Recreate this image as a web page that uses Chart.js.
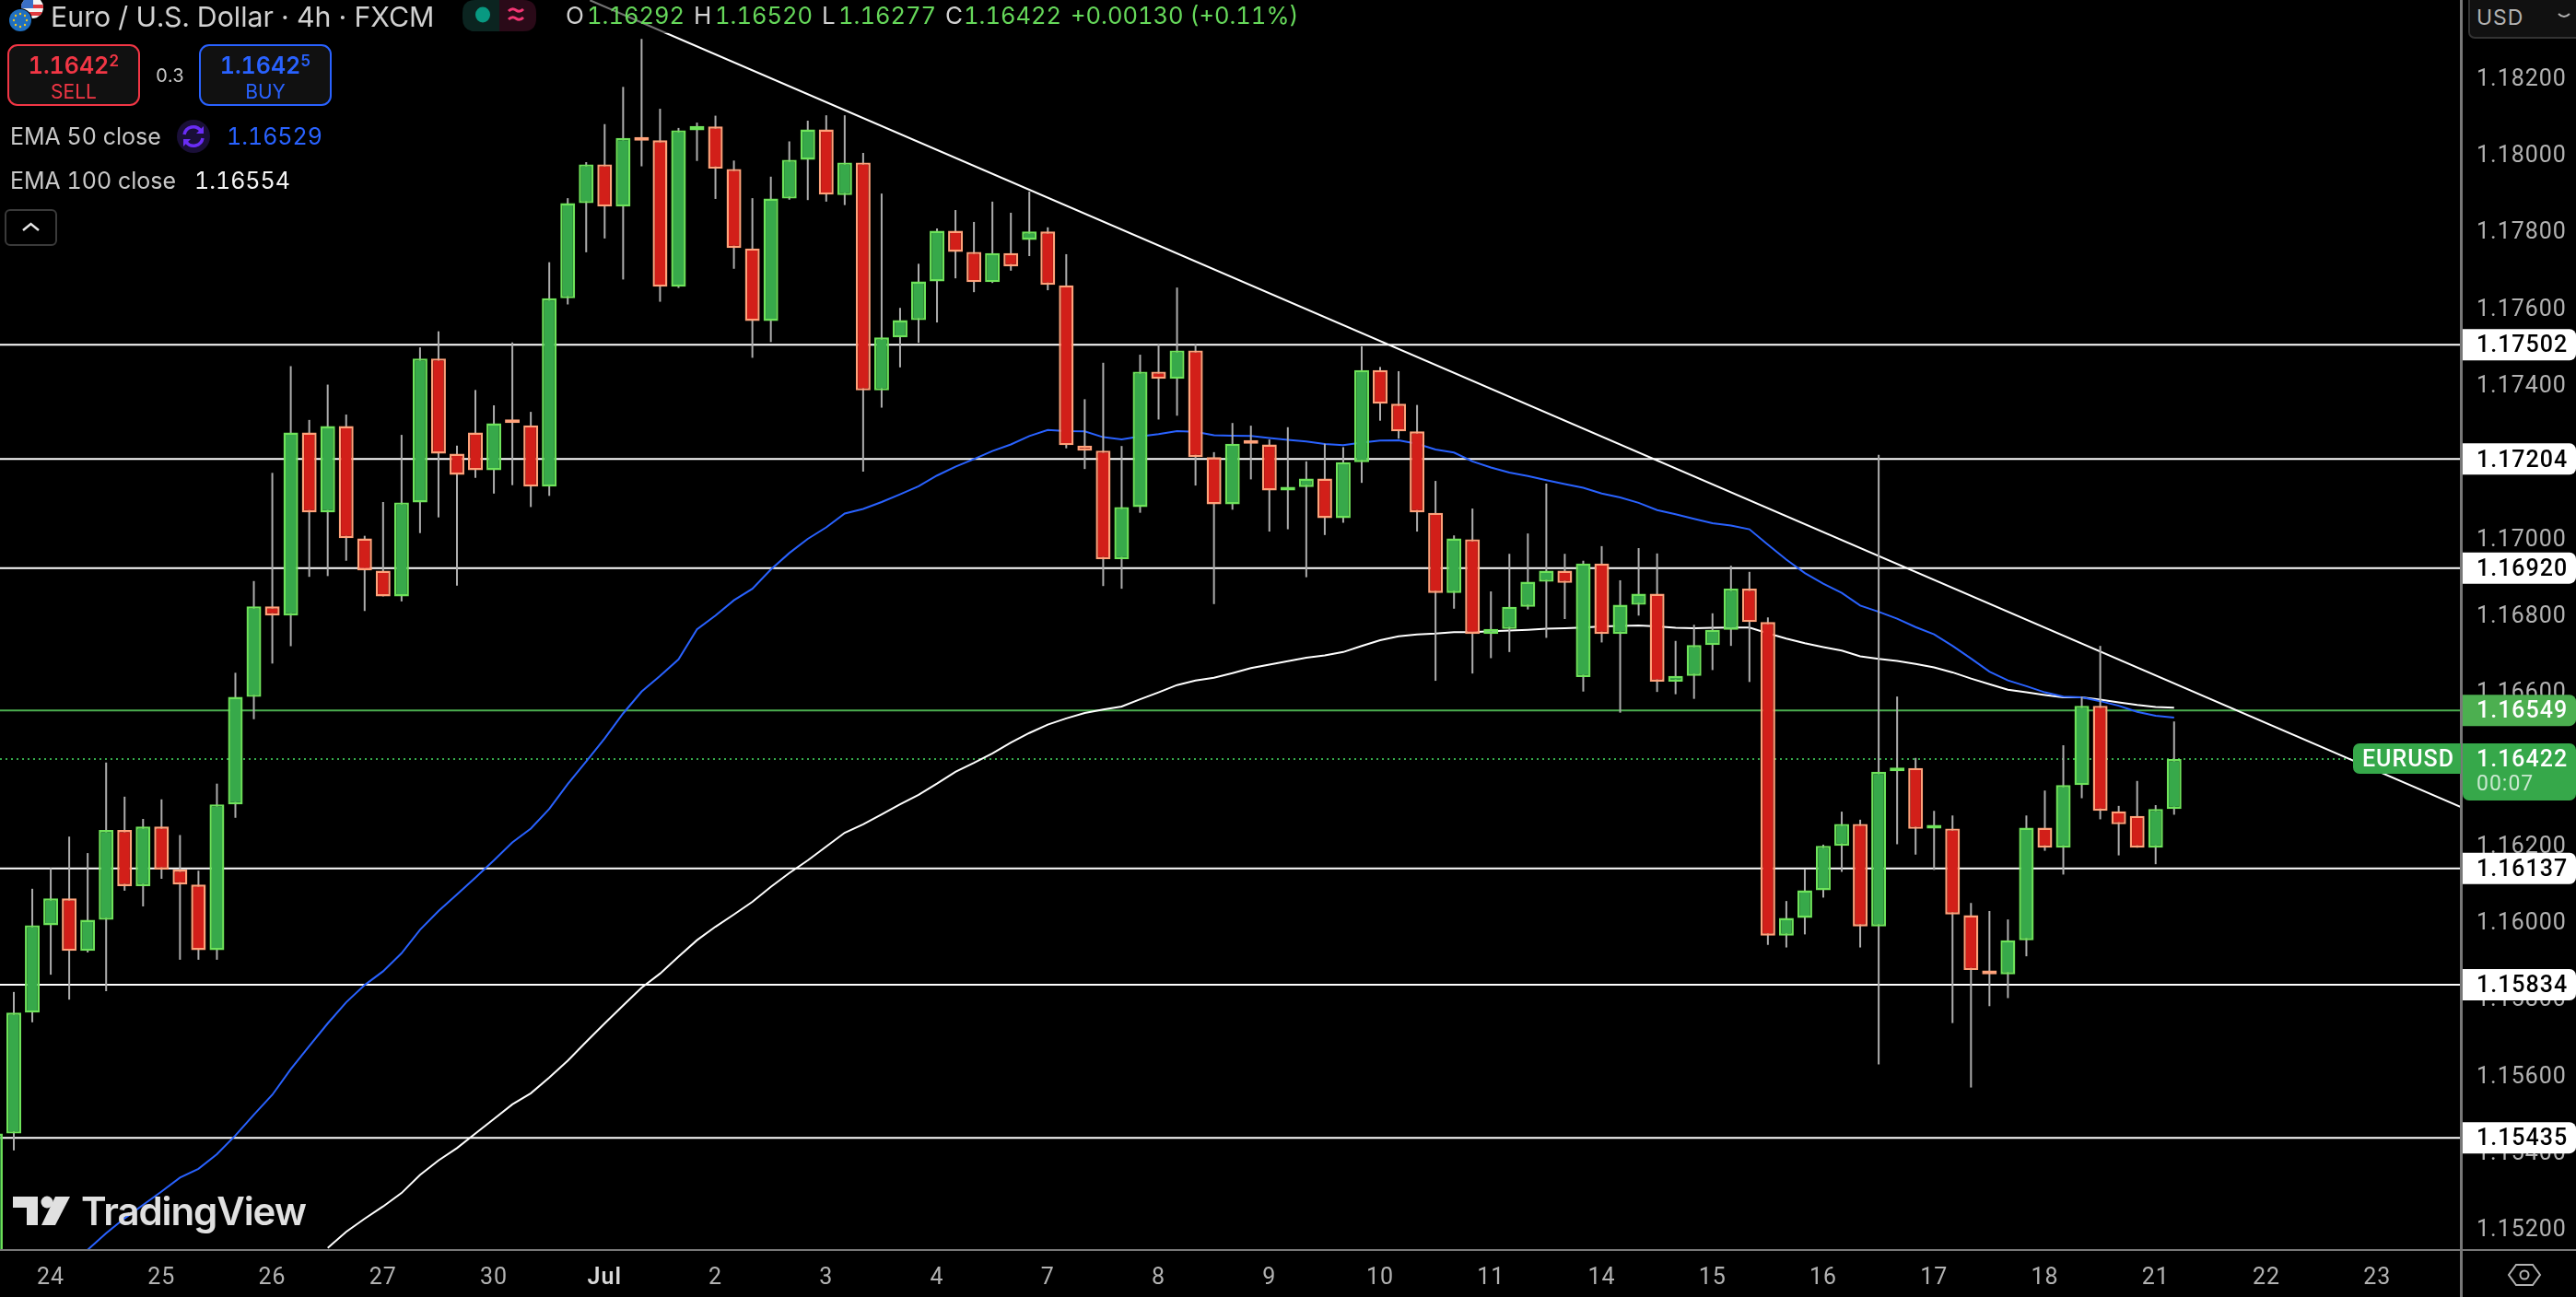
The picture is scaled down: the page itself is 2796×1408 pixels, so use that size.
<!DOCTYPE html>
<html>
<head>
<meta charset="utf-8">
<title>EURUSD 4h</title>
<script src="https://cdn.jsdelivr.net/npm/chart.js@4"></script>
<style>
  html, body { margin: 0; padding: 0; background: #000; overflow: hidden; }
  #wrap { position: relative; width: 2796px; height: 1408px; font-family: Inter, sans-serif; color: #d1d1d1; font-variant-numeric: tabular-nums; }
  #grafico { position: absolute; left: 0; top: 0; }
  .t { position: absolute; white-space: nowrap; line-height: 1; }
  .g { color: #66d85a; font-size: 25.5px; }
  .box { position: absolute; box-sizing: border-box; width: 144px; height: 67px; top: 48px; border: 2.5px solid; border-radius: 11px; background: #111; text-align: center; }
  .box .p { position: absolute; left: 0; right: 0; top: 8px; font-size: 25px; font-weight: 600; line-height: 1.1; }
  .box .p sup { font-size: 17px; line-height: 0; vertical-align: 8px; }
  .box .s { position: absolute; left: 0; right: 0; top: 38px; font-size: 21px; line-height: 1.1; }
  svg { position: absolute; overflow: visible; }
</style>
</head>
<body>
<div id="wrap">
  <canvas id="grafico" width="2796" height="1408"></canvas>

  <!-- leyenda superior -->
  <div style="position:absolute;left:0;top:0;width:1410px;height:36px;background:rgba(0,0,0,.55)"></div>
  <svg style="left:0;top:0" width="60" height="40">
    <clipPath id="us"><circle cx="35" cy="8" r="12"/></clipPath>
    <circle cx="35" cy="8" r="12" fill="#f4f4f4"/>
    <rect x="23" y="-4" width="24" height="3" fill="#e0393e" clip-path="url(#us)"/>
    <rect x="23" y="5" width="24" height="4" fill="#e0393e" clip-path="url(#us)"/>
    <rect x="23" y="13" width="24" height="4" fill="#e0393e" clip-path="url(#us)"/>
    <rect x="23" y="-4" width="13" height="13" fill="#3a6fc8" clip-path="url(#us)"/>
    <circle cx="22" cy="22" r="13" fill="#000"/>
    <circle cx="22" cy="22" r="12" fill="#1f6fc0"/>
    <g fill="#f2c81e">
      <circle cx="22" cy="15" r="1.2"/><circle cx="22" cy="29" r="1.2"/><circle cx="15" cy="22" r="1.2"/><circle cx="29" cy="22" r="1.2"/>
      <circle cx="17" cy="17" r="1.2"/><circle cx="27" cy="17" r="1.2"/><circle cx="17" cy="27" r="1.2"/><circle cx="27" cy="27" r="1.2"/>
    </g>
  </svg>
  <div class="t" style="left:55px;top:3px;font-size:30.3px">Euro / U.S. Dollar · 4h · FXCM</div>

  <svg style="left:502px;top:0" width="80" height="34">
    <path d="M40 0H14Q0 0 0 14V20Q0 34 14 34H40Z" fill="#0b2420"/>
    <path d="M40 0H66Q80 0 80 14V20Q80 34 66 34H40Z" fill="#2a0a18"/>
    <ellipse cx="22" cy="16" rx="8" ry="8.5" fill="#089981"/>
    <path d="M50 12q4-4 8-1t8-1M50 21q4-4 8-1t8-1" fill="none" stroke="#f23674" stroke-width="3"/>
  </svg>

  <div class="t" style="left:614px;top:4px;font-size:26px">O</div>
  <div class="t g" style="left:637px;top:4px">1.16292</div>
  <div class="t" style="left:753px;top:4px;font-size:26px">H</div>
  <div class="t g" style="left:776px;top:4px">1.16520</div>
  <div class="t" style="left:892px;top:4px;font-size:26px">L</div>
  <div class="t g" style="left:910px;top:4px">1.16277</div>
  <div class="t" style="left:1026px;top:4px;font-size:26px">C</div>
  <div class="t g" style="left:1046px;top:4px">1.16422</div>
  <div class="t g" style="left:1162px;top:4px">+0.00130 (+0.11%)</div>

  <div class="box" style="left:8px;border-color:#f23645;color:#f23645">
    <div class="p">1.1642<sup>2</sup></div><div class="s">SELL</div>
  </div>
  <div class="t" style="left:169px;top:72px;font-size:20px;color:#c8c8c8">0.3</div>
  <div class="box" style="left:216px;border-color:#2962ff;color:#2962ff">
    <div class="p">1.1642<sup>5</sup></div><div class="s">BUY</div>
  </div>

  <div class="t" style="left:11px;top:136px;font-size:25px;color:#c8c8c8">EMA 50 close</div>
  <svg style="left:192px;top:130px" width="36" height="36">
    <circle cx="18" cy="18" r="18" fill="#1a0f38"/>
    <path d="M8 16a10 10 0 0 1 18-4M28 20a10 10 0 0 1-18 4" fill="none" stroke="#6a2cf5" stroke-width="3.5"/>
    <path d="M29 7v8h-8ZM7 29v-8h8Z" fill="#6a2cf5"/>
  </svg>
  <div class="t" style="left:246px;top:136px;font-size:25px;color:#2962ff">1.16529</div>
  <div class="t" style="left:11px;top:184px;font-size:25px;color:#c8c8c8">EMA 100 close</div>
  <div class="t" style="left:211px;top:184px;font-size:25px;color:#f4f4f4">1.16554</div>

  <div style="position:absolute;box-sizing:border-box;left:5px;top:227px;width:57px;height:40px;border:2px solid #3a3a3a;border-radius:6px"></div>
  <svg style="left:5px;top:227px" width="57" height="40"><path d="M20 23l8.500-7 8.500 7" fill="none" stroke="#e6e6e6" stroke-width="2.5"/></svg>

  <!-- logo -->
  <svg style="left:14px;top:1296px" width="64" height="38">
    <path d="M0 3H27V34H15V15H0Z" fill="#e0e0e0"/>
    <circle cx="37" cy="9" r="6.500" fill="#e0e0e0"/>
    <path d="M46 3H62L46 34H31Z" fill="#e0e0e0"/>
  </svg>
  <div class="t" style="left:88px;top:1294px;font-size:42px;font-weight:600;letter-spacing:-1.1px;color:#e0e0e0">TradingView</div>

  <!-- USD y ojo -->
  <div style="position:absolute;box-sizing:border-box;left:2679px;top:-2px;width:120px;height:44px;background:#111;border:2px solid #333;border-radius:0 0 0 7px"></div>
  <div class="t" style="left:2688px;top:8px;font-size:23px;letter-spacing:1px;color:#b2b2b2">USD</div>
  <svg style="left:2776px;top:14px" width="14" height="8"><path d="M1 1q6 6 12 0" fill="none" stroke="#b2b2b2" stroke-width="2"/></svg>
  <svg style="left:2722px;top:1372px" width="36" height="26">
    <path d="M9 1H27L35 12L27 23H9L1 12Z" fill="none" stroke="#b2b2b2" stroke-width="2"/>
    <circle cx="18" cy="12" r="4.500" fill="none" stroke="#b2b2b2" stroke-width="2"/>
  </svg>
</div>

<script>
// ============================================================
// EURUSD 4h - velas
// ============================================================

const candleStart = -1; // la primera vela queda medio cortada en el borde
const candleOpen = [
  1.15040,1.15446,1.15761,1.15989,1.16059,1.15922,1.16003,1.16237,1.16091,1.16246,
  1.16134,1.16095,1.15924,1.16304,1.16584,1.16820,1.16796,1.17273,1.17065,1.17290,
  1.16997,1.16913,1.16846,1.17091,1.17466,1.17218,1.17273,1.17175,1.17301,1.17292,
  1.17132,1.17623,1.17871,1.17972,1.17862,1.18041,1.18035,1.17653,1.18061,1.18071,
  1.17960,1.17753,1.17564,1.17883,1.17984,1.18063,1.17892,1.17977,1.17383,1.17521,
  1.17566,1.17667,1.17799,1.17744,1.17665,1.17741,1.17775,1.17797,1.17657,1.17239,
  1.17226,1.16943,1.17079,1.17432,1.17413,1.17487,1.17209,1.17086,1.17247,1.17242,
  1.17122,1.17131,1.17153,1.17050,1.17196,1.17436,1.17348,1.17276,1.17064,1.16855,
  1.16995,1.16748,1.16761,1.16819,1.16884,1.16913,1.16636,1.16932,1.16748,1.16824,
  1.16853,1.16624,1.16639,1.16719,1.16759,1.16866,1.16779,1.15962,1.16008,1.16080,
  1.16196,1.16253,1.15986,1.16390,1.16399,1.16241,1.16241,1.16015,1.15871,1.15861,
  1.15950,1.16243,1.16191,1.16354,1.16561,1.16286,1.16274,1.16191,1.16292
];
const candleHigh = [
  1.15446,1.15815,1.16084,1.16138,1.16220,1.16177,1.16413,1.16324,1.16266,1.16317,
  1.16224,1.16131,1.16358,1.16647,1.16886,1.17168,1.17446,1.17306,1.17398,1.17320,
  1.17004,1.17092,1.17267,1.17495,1.17537,1.17239,1.17384,1.17344,1.17508,1.17327,
  1.17717,1.17884,1.17978,1.18077,1.18174,1.18299,1.18117,1.18067,1.18081,1.18099,
  1.17982,1.17884,1.17940,1.18032,1.18086,1.18100,1.18100,1.18002,1.17896,1.17598,
  1.17713,1.17805,1.17853,1.17822,1.17875,1.17846,1.17901,1.17808,1.17738,1.17360,
  1.17455,1.17238,1.17476,1.17503,1.17651,1.17503,1.17222,1.17298,1.17291,1.17255,
  1.17287,1.17198,1.17244,1.17235,1.17498,1.17444,1.17433,1.17345,1.17147,1.17005,
  1.17075,1.16859,1.16957,1.17010,1.17140,1.16957,1.16939,1.16977,1.16888,1.16972,
  1.16958,1.16730,1.16772,1.16802,1.16926,1.16910,1.16791,1.16052,1.16134,1.16199,
  1.16285,1.16264,1.17215,1.16585,1.16425,1.16287,1.16275,1.16047,1.16026,1.16004,
  1.16275,1.16340,1.16458,1.16585,1.16717,1.16300,1.16365,1.16302,1.16520
];
const candleLow = [
  1.15040,1.15402,1.15736,1.15860,1.15795,1.15918,1.15817,1.16079,1.16038,1.16110,
  1.15899,1.15899,1.15899,1.16269,1.16526,1.16671,1.16716,1.16897,1.16899,1.16939,
  1.16808,1.16846,1.16833,1.17011,1.17052,1.16874,1.17155,1.17114,1.17136,1.17079,
  1.17108,1.17607,1.17743,1.17779,1.17672,1.17967,1.17614,1.17650,1.17981,1.17882,
  1.17700,1.17468,1.17509,1.17880,1.17879,1.17875,1.17866,1.17171,1.17338,1.17443,
  1.17507,1.17560,1.17675,1.17639,1.17663,1.17695,1.17733,1.17644,1.17232,1.17178,
  1.16873,1.16866,1.17064,1.17307,1.17317,1.17135,1.16826,1.17072,1.17151,1.17015,
  1.17021,1.16896,1.17006,1.17038,1.17142,1.17304,1.17257,1.17015,1.16626,1.16814,
  1.16645,1.16685,1.16701,1.16812,1.16738,1.16787,1.16598,1.16726,1.16543,1.16796,
  1.16597,1.16591,1.16579,1.16654,1.16717,1.16623,1.15938,1.15931,1.15965,1.16061,
  1.16128,1.15931,1.15626,1.16200,1.16173,1.16133,1.15734,1.15566,1.15778,1.15799,
  1.15908,1.16183,1.16121,1.16320,1.16265,1.16171,1.16191,1.16148,1.16277
];
const candleClose = [
  1.15446,1.15761,1.15989,1.16059,1.15922,1.16003,1.16237,1.16091,1.16246,1.16134,
  1.16095,1.15924,1.16304,1.16584,1.16820,1.16796,1.17273,1.17065,1.17290,1.16998,
  1.16914,1.16846,1.17091,1.17466,1.17218,1.17163,1.17175,1.17297,1.17298,1.17132,
  1.17623,1.17871,1.17972,1.17862,1.18041,1.18034,1.17653,1.18061,1.18072,1.17961,
  1.17754,1.17564,1.17883,1.17984,1.18063,1.17893,1.17977,1.17383,1.17521,1.17566,
  1.17667,1.17799,1.17744,1.17665,1.17741,1.17706,1.17797,1.17658,1.17240,1.17226,
  1.16943,1.17079,1.17432,1.17413,1.17487,1.17209,1.17086,1.17244,1.17244,1.17122,
  1.17131,1.17153,1.17050,1.17196,1.17436,1.17348,1.17276,1.17065,1.16855,1.16997,
  1.16748,1.16761,1.16819,1.16884,1.16913,1.16881,1.16932,1.16748,1.16824,1.16853,
  1.16624,1.16639,1.16719,1.16759,1.16866,1.16779,1.15962,1.16008,1.16080,1.16196,
  1.16253,1.15986,1.16389,1.16399,1.16240,1.16244,1.16017,1.15872,1.15861,1.15950,
  1.16243,1.16191,1.16354,1.16561,1.16287,1.16252,1.16191,1.16292,1.16422
];

const ema50Start = 4;
const ema50 = [
  1.15143,1.15186,1.15225,1.15260,1.15295,1.15331,1.15354,1.15392,1.15441,1.15495,
  1.15547,1.15614,1.15674,1.15733,1.15788,1.15833,1.15869,1.15916,1.15977,1.16026,
  1.16069,1.16113,1.16158,1.16205,1.16241,1.16292,1.16357,1.16416,1.16476,1.16541,
  1.16598,1.16639,1.16682,1.16760,1.16796,1.16836,1.16866,1.16916,1.16959,1.16996,
  1.17026,1.17062,1.17074,1.17092,1.17112,1.17133,1.17161,1.17184,1.17204,1.17225,
  1.17242,1.17264,1.17280,1.17277,1.17276,1.17261,1.17255,1.17263,1.17269,1.17277,
  1.17275,1.17266,1.17265,1.17264,1.17259,1.17254,1.17250,1.17243,1.17240,1.17247,
  1.17252,1.17253,1.17244,1.17229,1.17221,1.17198,1.17182,1.17169,1.17160,1.17149,
  1.17139,1.17129,1.17114,1.17104,1.17090,1.17071,1.17060,1.17048,1.17037,1.17031,
  1.17021,1.16981,1.16942,1.16907,1.16879,1.16855,1.16822,1.16806,1.16788,1.16766,
  1.16747,1.16717,1.16684,1.16650,1.16627,1.16612,1.16596,1.16585,1.16583,1.16573,
  1.16561,1.16545,1.16535,1.16530
];

const ema100Start = 17;
const ema100 = [
  1.15148,1.15190,1.15224,1.15256,1.15291,1.15338,1.15376,1.15408,1.15446,1.15484,
  1.15522,1.15551,1.15592,1.15636,1.15685,1.15733,1.15780,1.15826,1.15863,1.15907,
  1.15950,1.15985,1.16017,1.16050,1.16089,1.16125,1.16158,1.16194,1.16230,1.16252,
  1.16278,1.16304,1.16329,1.16358,1.16389,1.16412,1.16437,1.16465,1.16490,1.16512,
  1.16528,1.16542,1.16551,1.16559,1.16578,1.16596,1.16615,1.16627,1.16634,1.16646,
  1.16659,1.16668,1.16677,1.16686,1.16692,1.16701,1.16717,1.16732,1.16742,1.16747,
  1.16749,1.16753,1.16753,1.16755,1.16757,1.16759,1.16762,1.16763,1.16765,1.16768,
  1.16769,1.16770,1.16768,1.16764,1.16763,1.16764,1.16765,1.16765,1.16750,1.16736,
  1.16724,1.16714,1.16705,1.16690,1.16683,1.16678,1.16670,1.16661,1.16648,1.16632,
  1.16617,1.16603,1.16596,1.16589,1.16583,1.16583,1.16577,1.16570,1.16563,1.16558,
  1.16556
];

const levelPrices = [1.17502, 1.17204, 1.16920, 1.16137, 1.15834, 1.15435];
const emaLevel = 1.16549;
const lastPrice = 1.16422;

const trendIndex = [31.2, 132.53];
const trendPrice = [1.18400, 1.16297];

const priceTicks = [1.152,1.154,1.156,1.158,1.160,1.162,1.164,1.166,1.168,1.170,1.172,1.174,1.176,1.178,1.180,1.182];
const dayLabels = ['24','25','26','27','30','Jul','2','3','4','7','8','9','10','11','14','15','16','17','18','21','22','23'];
const dayIndex = [2,8,14,20,26,32,38,44,50,56,62,68,74,80,86,92,98,104,110,116,122,128];

// limites de los ejes
const xMin = -0.7485, xMax = 132.53;
const yMin = 1.151424, yMax = 1.184005;

const isUp = (i) => candleClose[i] >= candleOpen[i];

const bodyData = candleOpen.map((o, i) => ({ x: candleStart + i, y: [o, candleClose[i]] }));
const wickData = candleHigh.map((h, i) => ({ x: candleStart + i, y: [candleLow[i], h] }));

function lineaNivel(price, color, width, dash) {
  return {
    type: 'line',
    data: [{ x: xMin, y: price }, { x: xMax, y: price }],
    borderColor: color,
    borderWidth: width,
    borderDash: dash || [],
    pointRadius: 0,
    order: 5
  };
}

function lineaEma(values, start, color) {
  return {
    type: 'line',
    data: values.map((v, i) => ({ x: start + i, y: v })),
    borderColor: color,
    borderWidth: 2,
    pointRadius: 0,
    tension: 0,
    order: 4
  };
}

// el espaciado de letras no es opcion de Chart.js, va en el contexto
const espaciadoPlugin = {
  id: 'espaciado',
  beforeDraw(chart) { chart.ctx.letterSpacing = '1px'; }
};

// etiquetas de precio y lineas de marco, encima de todo
const marcoPlugin = {
  id: 'marco',
  afterDraw(chart) {
    const ctx = chart.ctx;
    const y = chart.scales.y;
    const a = chart.chartArea;

    ctx.save();
    ctx.fillStyle = '#787878';
    ctx.fillRect(a.right - 1, 0, 3, 1408);
    ctx.fillRect(0, a.bottom - 1, 2796, 2);

    function etiqueta(price, fondo, color, peso) {
      const py = y.getPixelForValue(price);
      ctx.fillStyle = fondo;
      ctx.beginPath();
      ctx.roundRect(2673, py - 17, 123, 34, [0, 7, 7, 0]);
      ctx.fill();
      ctx.fillStyle = color;
      ctx.font = peso + ' 25px Roboto';
      ctx.textBaseline = 'middle';
      ctx.textAlign = 'left';
      ctx.fillText(price.toFixed(5), 2688, py + 2);
    }
    levelPrices.forEach((p) => etiqueta(p, '#ffffff', '#000000', 500));
    etiqueta(emaLevel, '#4caf50', '#ffffff', 500);

    const ly = y.getPixelForValue(lastPrice);
    ctx.fillStyle = '#36a84a';
    ctx.beginPath();
    ctx.roundRect(2673, ly - 17, 123, 62, [0, 7, 7, 7]);
    ctx.fill();
    ctx.beginPath();
    ctx.roundRect(2554, ly - 17, 117, 33, [7, 0, 0, 7]);
    ctx.fill();
    ctx.fillStyle = '#ffffff';
    ctx.font = '500 25px Roboto';
    ctx.textBaseline = 'middle';
    ctx.fillText(lastPrice.toFixed(5), 2688, ly + 2);
    ctx.fillText('EURUSD', 2564, ly + 2);
    ctx.fillStyle = '#c9e8cf';
    ctx.font = '23px Roboto';
    ctx.fillText('00:07', 2688, ly + 28);
    ctx.restore();
  }
};

new Chart(document.getElementById('grafico'), {
  type: 'bar',
  data: {
    datasets: [
      {
        data: bodyData,
        barThickness: 16,
        grouped: false,
        minBarLength: 4,
        borderWidth: 2.4,
        borderSkipped: false,
        inflateAmount: 0,
        backgroundColor: candleOpen.map((o, i) => isUp(i) ? '#37a94a' : '#d21f19'),
        borderColor: candleOpen.map((o, i) => isUp(i) ? '#6ee35a' : '#ffa27a'),
        order: 1
      },
      {
        data: wickData,
        barThickness: 2,
        grouped: false,
        borderWidth: 0,
        inflateAmount: 0,
        backgroundColor: '#adadad',
        order: 2
      },
      lineaEma(ema50, ema50Start, '#2962ff'),
      lineaEma(ema100, ema100Start, '#ffffff'),
      {
        type: 'line',
        data: trendIndex.map((x, i) => ({ x: x, y: trendPrice[i] })),
        borderColor: '#ffffff',
        borderWidth: 2,
        pointRadius: 0,
        order: 3
      },
      ...levelPrices.map((p) => lineaNivel(p, '#ffffff', 2)),
      lineaNivel(emaLevel, '#4caf50', 2),
      lineaNivel(lastPrice, '#36a84a', 2, [2, 4])
    ]
  },
  options: {
    responsive: false,
    devicePixelRatio: 1,
    animation: false,
    events: [],
    layout: { padding: 0 },
    plugins: { legend: { display: false }, tooltip: { enabled: false } },
    scales: {
      x: {
        type: 'linear',
        offset: false,
        min: xMin,
        max: xMax,
        grid: { display: false, drawTicks: false },
        border: { display: false },
        afterFit(scale) {
          scale.height = 51;
          scale.paddingLeft = 0;
          scale.paddingRight = 0;
        },
        afterBuildTicks(scale) { scale.ticks = dayIndex.map((v) => ({ value: v })); },
        ticks: {
          autoSkip: false,
          maxRotation: 0,
          padding: 16,
          color: (c) => c.tick && c.tick.value === 32 ? '#d8d8d8' : '#b2b2b2',
          font: (c) => ({ family: 'Roboto', size: 25, weight: c.tick && c.tick.value === 32 ? '600' : '400' }),
          callback: (v) => dayLabels[dayIndex.indexOf(v)]
        }
      },
      y: {
        position: 'right',
        min: yMin,
        max: yMax,
        grid: { display: false, drawTicks: false },
        border: { display: false },
        afterFit(scale) {
          scale.width = 125;
          scale.paddingTop = 0;
          scale.paddingBottom = 0;
        },
        afterBuildTicks(scale) { scale.ticks = priceTicks.map((v) => ({ value: v })); },
        ticks: {
          autoSkip: false,
          padding: 17,
          labelOffset: 3,
          color: '#b2b2b2',
          font: { family: 'Roboto', size: 25 },
          callback: (v) => v.toFixed(5)
        }
      }
    }
  },
  plugins: [espaciadoPlugin, marcoPlugin]
});
</script>
</body>
</html>
